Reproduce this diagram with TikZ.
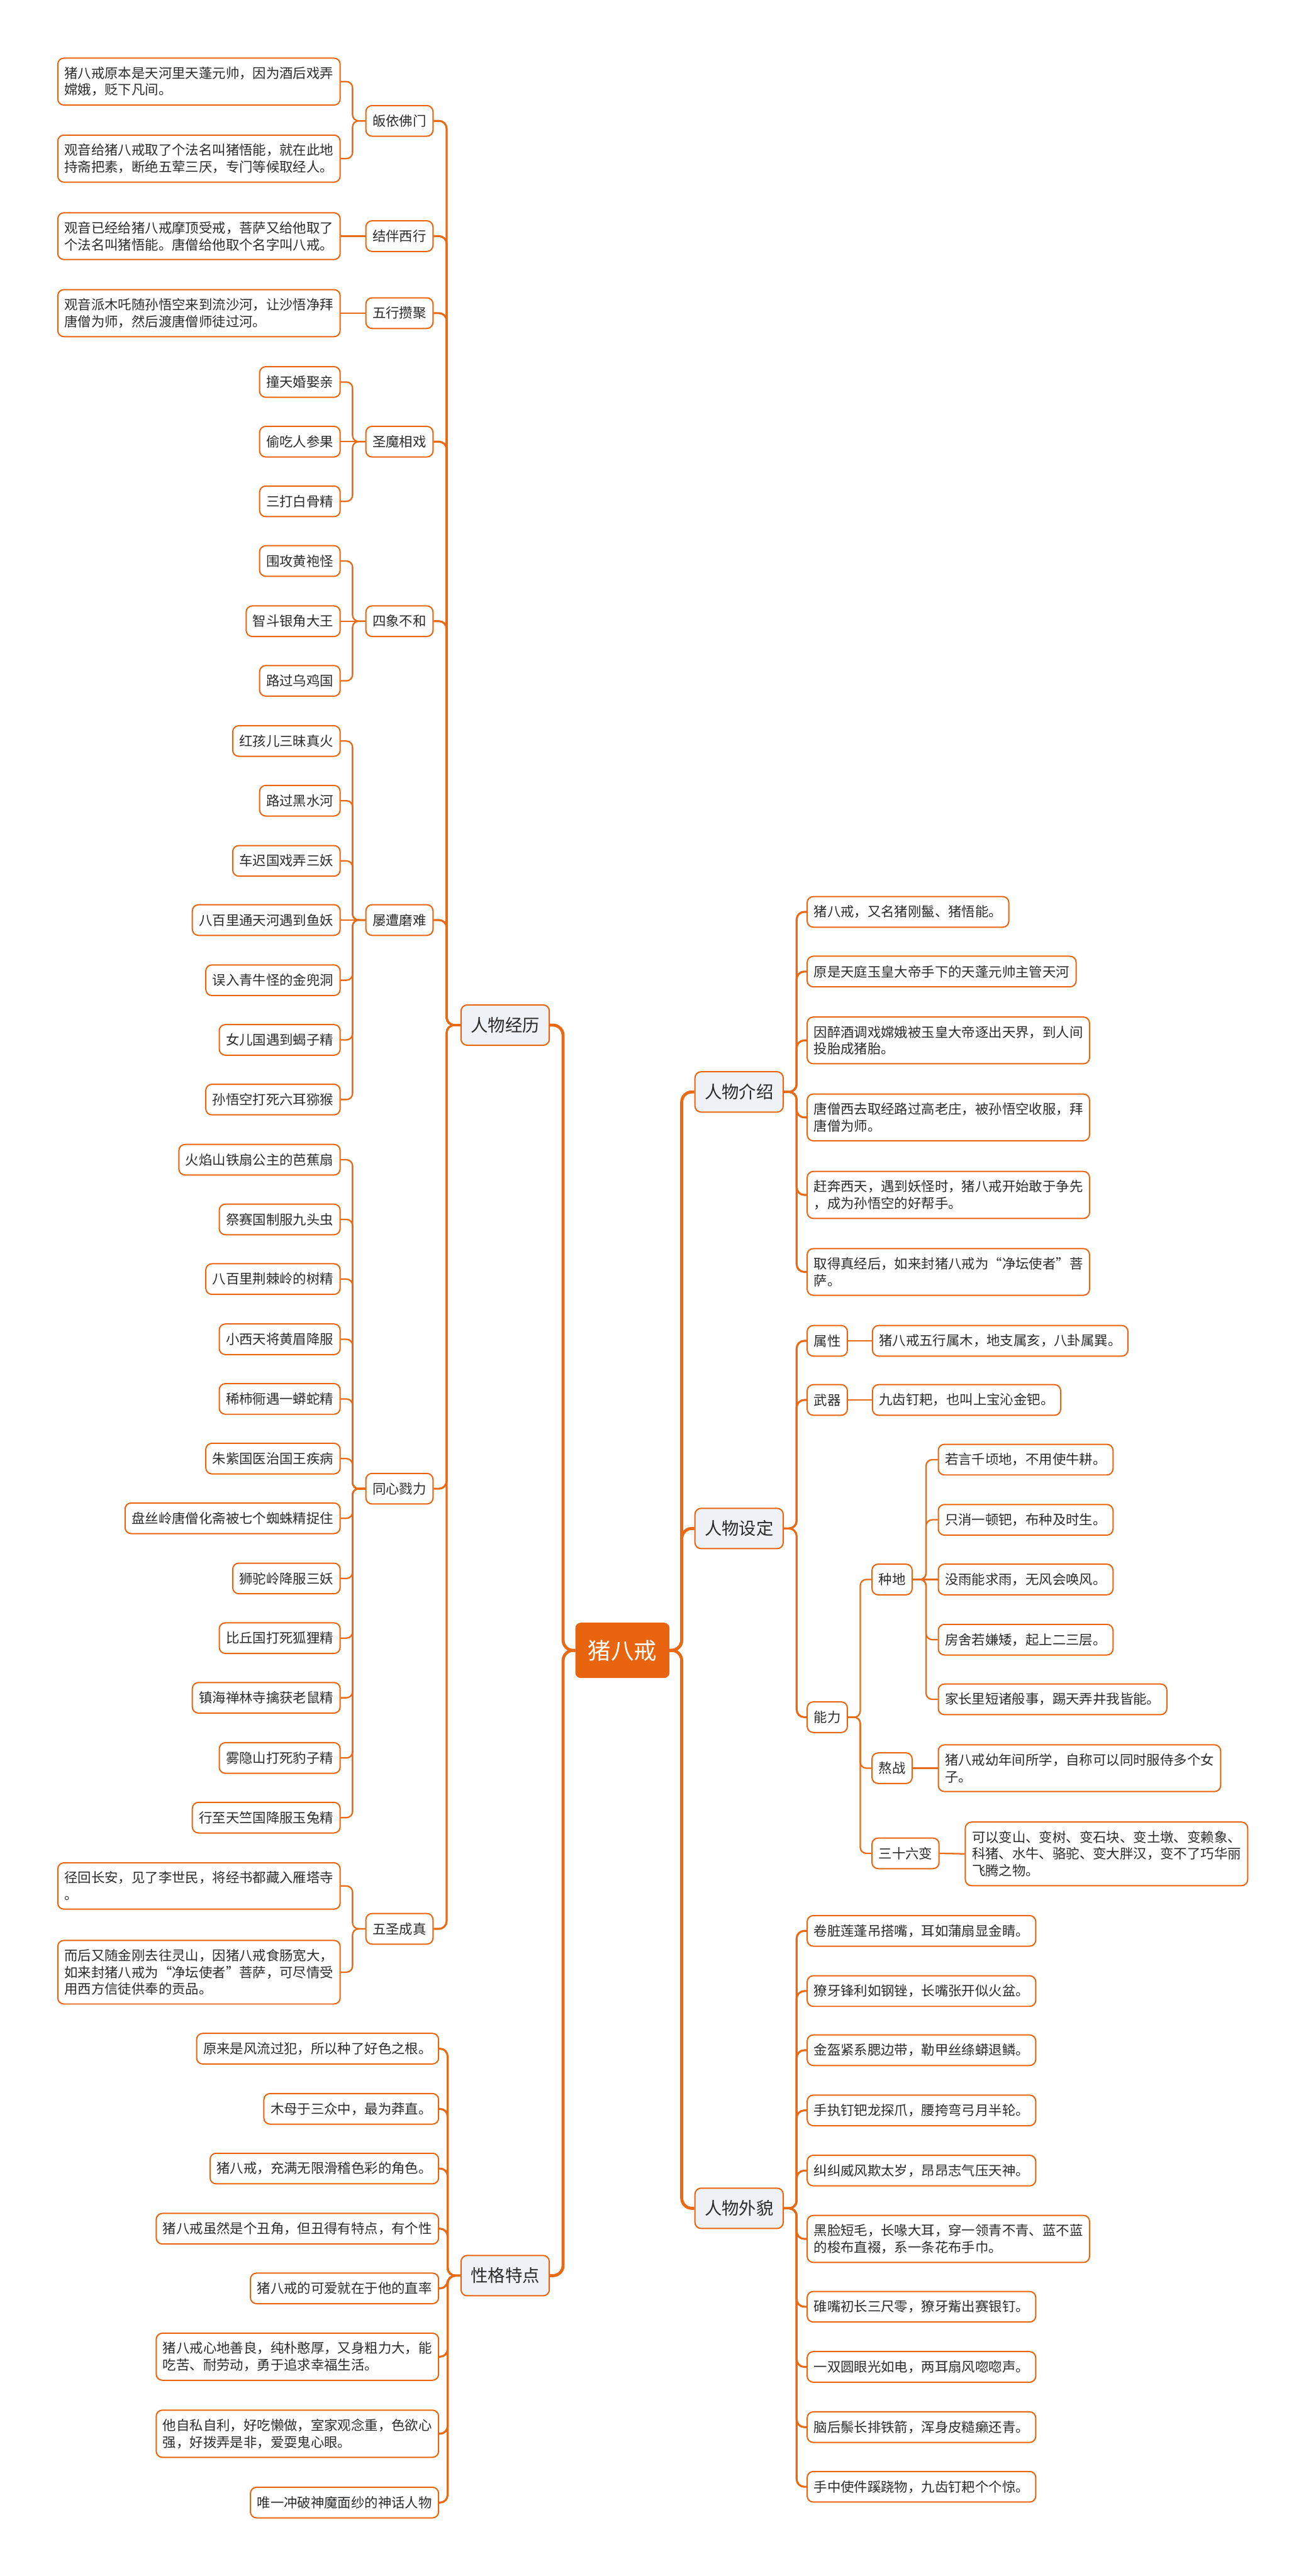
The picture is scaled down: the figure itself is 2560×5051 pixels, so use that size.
\documentclass[tikz,border=0pt]{standalone}
\usepackage{fontspec}
\setmainfont{Noto Sans CJK SC}
\usepackage{xcolor}
\usepackage{tikz}
\usetikzlibrary{positioning}
\definecolor{mmorange}{HTML}{E8640E}
\definecolor{mmline}{HTML}{E86A14}
\definecolor{mmtopic}{HTML}{EEF1F5}
\definecolor{mmtext}{HTML}{2B2B2B}
\newcommand{\leaffont}{\fontsize{7.5}{9.4}\selectfont}
\tikzset{
  rootnode/.style={rounded corners=0.1cm, draw=mmorange, fill=mmorange, text=white, font=\fontsize{12.8}{15}\selectfont, minimum width=1.83cm, minimum height=1.07cm, inner sep=0pt},
  mainnode/.style={rounded corners=0.12cm, draw=mmorange, fill=mmtopic, text=mmtext, line width=0.7pt, font=\fontsize{9.6}{11.5}\selectfont, inner xsep=0.19cm, minimum height=0.79cm},
  leaf/.style={rounded corners=0.12cm, draw=mmorange, fill=white, text=mmtext, line width=0.7pt, font=\leaffont, align=left, inner xsep=0.13cm, inner ysep=0.17cm, minimum height=0.6cm},
  trunk/.style={draw=mmline, line width=1.7pt, rounded corners=0.2cm},
  branch/.style={draw=mmline, line width=1.1pt, rounded corners=0.15cm},
  twig/.style={draw=mmline, line width=0.8pt, rounded corners=0.12cm}
}
\begin{document}
\begin{tikzpicture}[x=0.01cm, y=-0.01cm]
  \fill[white] (0,0) rectangle (2560,5051);
  \useasboundingbox (0,0) rectangle (2560,5051);

  % centre
  \node[rootnode] (zbj) at (1220,3236) {猪八戒};

  % left: 人物经历
  \node[mainnode, anchor=east] (jingli) at (1078,2010) {人物经历};
  \node[leaf, anchor=east] (guiyi) at (850,237) {皈依佛门};
  \node[leaf, anchor=east] (jieban) at (850,463) {结伴西行};
  \node[leaf, anchor=east] (wuxing) at (850,614) {五行攒聚};
  \node[leaf, anchor=east] (shengmo) at (850,866) {圣魔相戏};
  \node[leaf, anchor=east] (sixiang) at (850,1218) {四象不和};
  \node[leaf, anchor=east] (lvzao) at (850,1804) {屡遭磨难};
  \node[leaf, anchor=east] (tongxin) at (850,2919) {同心戮力};
  \node[leaf, anchor=east] (wusheng) at (850,3782) {五圣成真};

  \node[leaf, anchor=east] (guiyiA) at (668,160) {猪八戒原本是天河里天蓬元帅，因为酒后戏弄\\嫦娥，贬下凡间。};
  \node[leaf, anchor=east] (guiyiB) at (668,311) {观音给猪八戒取了个法名叫猪悟能，就在此地\\持斋把素，断绝五荤三厌，专门等候取经人。};
  \node[leaf, anchor=east] (jiebanA) at (668,463) {观音已经给猪八戒摩顶受戒，菩萨又给他取了\\个法名叫猪悟能。唐僧给他取个名字叫八戒。};
  \node[leaf, anchor=east] (wuxingA) at (668,614) {观音派木吒随孙悟空来到流沙河，让沙悟净拜\\唐僧为师，然后渡唐僧师徒过河。};

  \node[leaf, anchor=east] (shengmoA) at (668,749) {撞天婚娶亲};
  \node[leaf, anchor=east] (shengmoB) at (668,866) {偷吃人参果};
  \node[leaf, anchor=east] (shengmoC) at (668,983) {三打白骨精};

  \node[leaf, anchor=east] (sixiangA) at (668,1100) {围攻黄袍怪};
  \node[leaf, anchor=east] (sixiangB) at (668,1218) {智斗银角大王};
  \node[leaf, anchor=east] (sixiangC) at (668,1335) {路过乌鸡国};

  \node[leaf, anchor=east] (lvzaoA) at (668,1453) {红孩儿三昧真火};
  \node[leaf, anchor=east] (lvzaoB) at (668,1570) {路过黑水河};
  \node[leaf, anchor=east] (lvzaoC) at (668,1688) {车迟国戏弄三妖};
  \node[leaf, anchor=east] (lvzaoD) at (668,1804) {八百里通天河遇到鱼妖};
  \node[leaf, anchor=east] (lvzaoE) at (668,1922) {误入青牛怪的金兜洞};
  \node[leaf, anchor=east] (lvzaoF) at (668,2039) {女儿国遇到蝎子精};
  \node[leaf, anchor=east] (lvzaoG) at (668,2156) {孙悟空打死六耳猕猴};

  \node[leaf, anchor=east] (tongxinA) at (668,2274) {火焰山铁扇公主的芭蕉扇};
  \node[leaf, anchor=east] (tongxinB) at (668,2391) {祭赛国制服九头虫};
  \node[leaf, anchor=east] (tongxinC) at (668,2508) {八百里荆棘岭的树精};
  \node[leaf, anchor=east] (tongxinD) at (668,2626) {小西天将黄眉降服};
  \node[leaf, anchor=east] (tongxinE) at (668,2743) {稀柿衕遇一蟒蛇精};
  \node[leaf, anchor=east] (tongxinF) at (668,2860) {朱紫国医治国王疾病};
  \node[leaf, anchor=east] (tongxinG) at (668,2977) {盘丝岭唐僧化斋被七个蜘蛛精捉住};
  \node[leaf, anchor=east] (tongxinH) at (668,3095) {狮驼岭降服三妖};
  \node[leaf, anchor=east] (tongxinI) at (668,3212) {比丘国打死狐狸精};
  \node[leaf, anchor=east] (tongxinJ) at (668,3329) {镇海禅林寺擒获老鼠精};
  \node[leaf, anchor=east] (tongxinK) at (668,3447) {雾隐山打死豹子精};
  \node[leaf, anchor=east] (tongxinL) at (668,3564) {行至天竺国降服玉兔精};

  \node[leaf, anchor=east] (wushengA) at (668,3698) {径回长安，见了李世民，将经书都藏入雁塔寺\\。};
  \node[leaf, anchor=east] (wushengB) at (668,3867) {而后又随金刚去往灵山，因猪八戒食肠宽大，\\如来封猪八戒为“净坛使者”菩萨，可尽情受\\用西方信徒供奉的贡品。};

  % left: 性格特点
  \node[mainnode, anchor=east] (xingge) at (1078,4462) {性格特点};
  \node[leaf, anchor=east] (xinggeA) at (861,4017) {原来是风流过犯，所以种了好色之根。};
  \node[leaf, anchor=east] (xinggeB) at (861,4135) {木母于三众中，最为莽直。};
  \node[leaf, anchor=east] (xinggeC) at (861,4252) {猪八戒，充满无限滑稽色彩的角色。};
  \node[leaf, anchor=east] (xinggeD) at (861,4370) {猪八戒虽然是个丑角，但丑得有特点，有个性};
  \node[leaf, anchor=east] (xinggeE) at (861,4487) {猪八戒的可爱就在于他的直率};
  \node[leaf, anchor=east] (xinggeF) at (861,4621) {猪八戒心地善良，纯朴憨厚，又身粗力大，能\\吃苦、耐劳动，勇于追求幸福生活。};
  \node[leaf, anchor=east] (xinggeG) at (861,4772) {他自私自利，好吃懒做，室家观念重，色欲心\\强，好拨弄是非，爱耍鬼心眼。};
  \node[leaf, anchor=east] (xinggeH) at (861,4907) {唯一冲破神魔面纱的神话人物};

  % right: 人物介绍
  \node[mainnode, anchor=west] (jieshao) at (1361,2141) {人物介绍};
  \node[leaf, anchor=west] (jieshaoA) at (1581,1788) {猪八戒，又名猪刚鬣、猪悟能。};
  \node[leaf, anchor=west] (jieshaoB) at (1581,1905) {原是天庭玉皇大帝手下的天蓬元帅主管天河};
  \node[leaf, anchor=west] (jieshaoC) at (1581,2040) {因醉酒调戏嫦娥被玉皇大帝逐出天界，到人间\\投胎成猪胎。};
  \node[leaf, anchor=west] (jieshaoD) at (1581,2191) {唐僧西去取经路过高老庄，被孙悟空收服，拜\\唐僧为师。};
  \node[leaf, anchor=west] (jieshaoE) at (1581,2343) {赶奔西天，遇到妖怪时，猪八戒开始敢于争先\\，成为孙悟空的好帮手。};
  \node[leaf, anchor=west] (jieshaoF) at (1581,2494) {取得真经后，如来封猪八戒为“净坛使者”菩\\萨。};

  % right: 人物设定
  \node[mainnode, anchor=west] (sheding) at (1361,2997) {人物设定};
  \node[leaf, anchor=west] (shuxing) at (1581,2629) {属性};
  \node[leaf, anchor=west] (wuqi) at (1581,2745) {武器};
  \node[leaf, anchor=west] (nengli) at (1581,3367) {能力};
  \node[leaf, anchor=west] (shuxingA) at (1709,2629) {猪八戒五行属木，地支属亥，八卦属巽。};
  \node[leaf, anchor=west] (wuqiA) at (1709,2745) {九齿钉耙，也叫上宝沁金钯。};
  \node[leaf, anchor=west] (zhongdi) at (1708,3097) {种地};
  \node[leaf, anchor=west] (aozhan) at (1708,3467) {熬战};
  \node[leaf, anchor=west] (shiliu) at (1708,3634) {三十六变};
  \node[leaf, anchor=west] (zhongdiA) at (1838,2862) {若言千顷地，不用使牛耕。};
  \node[leaf, anchor=west] (zhongdiB) at (1838,2980) {只消一顿钯，布种及时生。};
  \node[leaf, anchor=west] (zhongdiC) at (1838,3097) {没雨能求雨，无风会唤风。};
  \node[leaf, anchor=west] (zhongdiD) at (1838,3215) {房舍若嫌矮，起上二三层。};
  \node[leaf, anchor=west] (zhongdiE) at (1838,3332) {家长里短诸般事，踢天弄井我皆能。};
  \node[leaf, anchor=west] (aozhanA) at (1838,3467) {猪八戒幼年间所学，自称可以同时服侍多个女\\子。};
  \node[leaf, anchor=west] (shiliuA) at (1891,3635) {可以变山、变树、变石块、变土墩、变赖象、\\科猪、水牛、骆驼、变大胖汉，变不了巧华丽\\飞腾之物。};

  % right: 人物外貌
  \node[mainnode, anchor=west] (waimao) at (1361,4330) {人物外貌};
  \node[leaf, anchor=west] (waimaoA) at (1581,3786) {卷脏莲蓬吊搭嘴，耳如蒲扇显金睛。};
  \node[leaf, anchor=west] (waimaoB) at (1581,3904) {獠牙锋利如钢锉，长嘴张开似火盆。};
  \node[leaf, anchor=west] (waimaoC) at (1581,4020) {金盔紧系腮边带，勒甲丝绦蟒退鳞。};
  \node[leaf, anchor=west] (waimaoD) at (1581,4138) {手执钉钯龙探爪，腰挎弯弓月半轮。};
  \node[leaf, anchor=west] (waimaoE) at (1581,4256) {纠纠威风欺太岁，昂昂志气压天神。};
  \node[leaf, anchor=west] (waimaoF) at (1581,4390) {黑脸短毛，长喙大耳，穿一领青不青、蓝不蓝\\的梭布直裰，系一条花布手巾。};
  \node[leaf, anchor=west] (waimaoG) at (1581,4523) {碓嘴初长三尺零，獠牙觜出赛银钉。};
  \node[leaf, anchor=west] (waimaoH) at (1581,4641) {一双圆眼光如电，两耳扇风唿唿声。};
  \node[leaf, anchor=west] (waimaoI) at (1581,4759) {脑后鬃长排铁箭，浑身皮糙癞还青。};
  \node[leaf, anchor=west] (waimaoJ) at (1581,4876) {手中使件蹊跷物，九齿钉耙个个惊。};

  % trunks
  \draw[trunk] (zbj.west) -- ++(-24,0) |- (jingli.east);
  \draw[trunk] (zbj.west) -- ++(-24,0) |- (xingge.east);
  \draw[trunk] (zbj.east) -- ++(24,0) |- (jieshao.west);
  \draw[trunk] (zbj.east) -- ++(24,0) |- (sheding.west);
  \draw[trunk] (zbj.east) -- ++(24,0) |- (waimao.west);

  % 人物经历 branches
  \draw[branch] (jingli.west) -- ++(-27,0) |- (guiyi.east);
  \draw[branch] (jingli.west) -- ++(-27,0) |- (jieban.east);
  \draw[branch] (jingli.west) -- ++(-27,0) |- (wuxing.east);
  \draw[branch] (jingli.west) -- ++(-27,0) |- (shengmo.east);
  \draw[branch] (jingli.west) -- ++(-27,0) |- (sixiang.east);
  \draw[branch] (jingli.west) -- ++(-27,0) |- (lvzao.east);
  \draw[branch] (jingli.west) -- ++(-27,0) |- (tongxin.east);
  \draw[branch] (jingli.west) -- ++(-27,0) |- (wusheng.east);

  \draw[twig] (guiyi.west) -- ++(-25,0) |- (guiyiA.east);
  \draw[twig] (guiyi.west) -- ++(-25,0) |- (guiyiB.east);
  \draw[twig] (jieban.west) -- (jiebanA.east);
  \draw[twig] (wuxing.west) -- (wuxingA.east);
  \draw[twig] (shengmo.west) -- ++(-25,0) |- (shengmoA.east);
  \draw[twig] (shengmo.west) -- (shengmoB.east);
  \draw[twig] (shengmo.west) -- ++(-25,0) |- (shengmoC.east);
  \draw[twig] (sixiang.west) -- ++(-25,0) |- (sixiangA.east);
  \draw[twig] (sixiang.west) -- (sixiangB.east);
  \draw[twig] (sixiang.west) -- ++(-25,0) |- (sixiangC.east);
  \draw[twig] (lvzao.west) -- ++(-25,0) |- (lvzaoA.east);
  \draw[twig] (lvzao.west) -- ++(-25,0) |- (lvzaoB.east);
  \draw[twig] (lvzao.west) -- ++(-25,0) |- (lvzaoC.east);
  \draw[twig] (lvzao.west) -- (lvzaoD.east);
  \draw[twig] (lvzao.west) -- ++(-25,0) |- (lvzaoE.east);
  \draw[twig] (lvzao.west) -- ++(-25,0) |- (lvzaoF.east);
  \draw[twig] (lvzao.west) -- ++(-25,0) |- (lvzaoG.east);
  \draw[twig] (tongxin.west) -- ++(-25,0) |- (tongxinA.east);
  \draw[twig] (tongxin.west) -- ++(-25,0) |- (tongxinB.east);
  \draw[twig] (tongxin.west) -- ++(-25,0) |- (tongxinC.east);
  \draw[twig] (tongxin.west) -- ++(-25,0) |- (tongxinD.east);
  \draw[twig] (tongxin.west) -- ++(-25,0) |- (tongxinE.east);
  \draw[twig] (tongxin.west) -- ++(-25,0) |- (tongxinF.east);
  \draw[twig] (tongxin.west) -- ++(-25,0) |- (tongxinG.east);
  \draw[twig] (tongxin.west) -- ++(-25,0) |- (tongxinH.east);
  \draw[twig] (tongxin.west) -- ++(-25,0) |- (tongxinI.east);
  \draw[twig] (tongxin.west) -- ++(-25,0) |- (tongxinJ.east);
  \draw[twig] (tongxin.west) -- ++(-25,0) |- (tongxinK.east);
  \draw[twig] (tongxin.west) -- ++(-25,0) |- (tongxinL.east);
  \draw[twig] (wusheng.west) -- ++(-25,0) |- (wushengA.east);
  \draw[twig] (wusheng.west) -- ++(-25,0) |- (wushengB.east);

  % 性格特点 branches
  \draw[branch] (xingge.west) -- ++(-25,0) |- (xinggeA.east);
  \draw[branch] (xingge.west) -- ++(-25,0) |- (xinggeB.east);
  \draw[branch] (xingge.west) -- ++(-25,0) |- (xinggeC.east);
  \draw[branch] (xingge.west) -- ++(-25,0) |- (xinggeD.east);
  \draw[branch] (xingge.west) -- ++(-25,0) |- (xinggeE.east);
  \draw[branch] (xingge.west) -- ++(-25,0) |- (xinggeF.east);
  \draw[branch] (xingge.west) -- ++(-25,0) |- (xinggeG.east);
  \draw[branch] (xingge.west) -- ++(-25,0) |- (xinggeH.east);

  % 人物介绍 branches
  \draw[branch] (jieshao.east) -- ++(25,0) |- (jieshaoA.west);
  \draw[branch] (jieshao.east) -- ++(25,0) |- (jieshaoB.west);
  \draw[branch] (jieshao.east) -- ++(25,0) |- (jieshaoC.west);
  \draw[branch] (jieshao.east) -- ++(25,0) |- (jieshaoD.west);
  \draw[branch] (jieshao.east) -- ++(25,0) |- (jieshaoE.west);
  \draw[branch] (jieshao.east) -- ++(25,0) |- (jieshaoF.west);

  % 人物设定 branches
  \draw[branch] (sheding.east) -- ++(25,0) |- (shuxing.west);
  \draw[branch] (sheding.east) -- ++(25,0) |- (wuqi.west);
  \draw[branch] (sheding.east) -- ++(25,0) |- (nengli.west);
  \draw[twig] (shuxing.east) -- (shuxingA.west);
  \draw[twig] (wuqi.east) -- (wuqiA.west);
  \draw[twig] (nengli.east) -- ++(24,0) |- (zhongdi.west);
  \draw[twig] (nengli.east) -- ++(24,0) |- (aozhan.west);
  \draw[twig] (nengli.east) -- ++(24,0) |- (shiliu.west);
  \draw[twig] (zhongdi.east) -- ++(26,0) |- (zhongdiA.west);
  \draw[twig] (zhongdi.east) -- ++(26,0) |- (zhongdiB.west);
  \draw[twig] (zhongdi.east) -- (zhongdiC.west);
  \draw[twig] (zhongdi.east) -- ++(26,0) |- (zhongdiD.west);
  \draw[twig] (zhongdi.east) -- ++(26,0) |- (zhongdiE.west);
  \draw[twig] (aozhan.east) -- (aozhanA.west);
  \draw[twig] (shiliu.east) -- (shiliuA.west);

  % 人物外貌 branches
  \draw[branch] (waimao.east) -- ++(25,0) |- (waimaoA.west);
  \draw[branch] (waimao.east) -- ++(25,0) |- (waimaoB.west);
  \draw[branch] (waimao.east) -- ++(25,0) |- (waimaoC.west);
  \draw[branch] (waimao.east) -- ++(25,0) |- (waimaoD.west);
  \draw[branch] (waimao.east) -- ++(25,0) |- (waimaoE.west);
  \draw[branch] (waimao.east) -- ++(25,0) |- (waimaoF.west);
  \draw[branch] (waimao.east) -- ++(25,0) |- (waimaoG.west);
  \draw[branch] (waimao.east) -- ++(25,0) |- (waimaoH.west);
  \draw[branch] (waimao.east) -- ++(25,0) |- (waimaoI.west);
  \draw[branch] (waimao.east) -- ++(25,0) |- (waimaoJ.west);
\end{tikzpicture}
\end{document}
